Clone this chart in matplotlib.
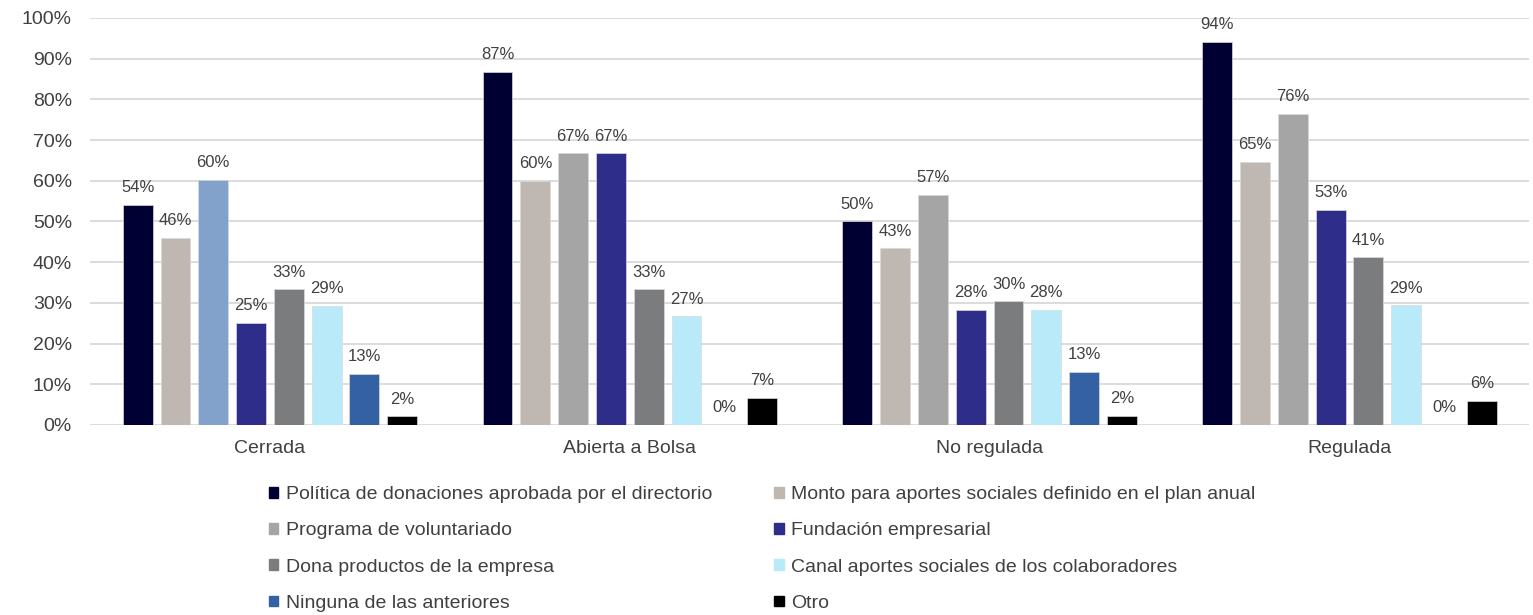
import matplotlib
matplotlib.use("Agg")
import matplotlib.pyplot as plt
from matplotlib.patches import Rectangle
import numpy as np

plt.rcParams['font.family'] = ['Liberation Sans', 'DejaVu Sans']

categories = ["Cerrada", "Abierta a Bolsa", "No regulada", "Regulada"]
series = [
    "Política de donaciones aprobada por el directorio",
    "Monto para aportes sociales definido en el plan anual",
    "Programa de voluntariado",
    "Fundación empresarial",
    "Dona productos de la empresa",
    "Canal aportes sociales de los colaboradores",
    "Ninguna de las anteriores",
    "Otro",
]
# values in % per series, one per category
politica   = [54.1, 86.7, 50.0, 94.1]
monto      = [46.0, 60.0, 43.4, 64.7]
voluntario = [60.3, 66.7, 56.6, 76.5]
fundacion  = [25.0, 66.7, 28.2, 52.9]
dona       = [33.3, 33.3, 30.4, 41.2]
canal      = [29.2, 26.7, 28.2, 29.4]
ninguna    = [12.6, 0.0, 13.0, 0.0]
otro       = [2.1, 6.7, 2.2, 5.9]
values = [politica, monto, voluntario, fundacion, dona, canal, ninguna, otro]

colors = ["#000033", "#BFB8B2", "#A5A5A5", "#2E2E8A",
          "#7B7C7E", "#B9EAFA", "#3461A4", "#000000"]
cerrada_voluntario_color = "#82A2CC"

fig = plt.figure(figsize=(15.33, 6.15), dpi=100)
ax = fig.add_axes([0.0587, 0.309, 0.939, 0.6618])

n = len(series)
pitch = 0.105
width = 0.083
x = np.arange(len(categories))
for i, (vals, c) in enumerate(zip(values, colors)):
    pos = x + (i - (n - 1) / 2) * pitch
    cols = [c] * len(categories)
    if i == 2:
        cols[0] = cerrada_voluntario_color
    bars = ax.bar(pos, vals, width, color=cols, edgecolor="#d9d9d9", linewidth=0.5, zorder=3)
    for b, v in zip(bars, vals):
        ax.annotate("%d%%" % round(v), (b.get_x() + b.get_width() / 2, v),
                    xytext=(0, 7), textcoords="offset points",
                    ha="center", va="bottom", fontsize=12, color="#404040")

ax.set_xlim(-0.5, len(categories) - 0.5)
ax.set_ylim(0, 100)
ax.set_yticks(range(0, 101, 10))
ax.set_yticklabels(["%d%%" % t for t in range(0, 101, 10)])
ax.set_xticks(x)
ax.set_xticklabels(categories)
ax.tick_params(axis="both", length=0, labelsize=14, colors="#404040")
ax.tick_params(axis="y", pad=13)
ax.tick_params(axis="x", pad=11)
ax.grid(axis="y", color="#d9d9d9", linewidth=1.3, zorder=0)
for s in ax.spines.values():
    s.set_visible(False)

handles = [Rectangle((0, 0), 1, 1, color=c) for c in colors]
order = [0, 2, 4, 6, 1, 3, 5, 7]
fig.legend([handles[k] for k in order], [series[k] for k in order],
           ncol=2, loc="upper left", bbox_to_anchor=(0.164, 0.238),
           frameon=False, fontsize=14, handlelength=0.47, handleheight=0.47,
           handletextpad=0.4, labelspacing=0.99, columnspacing=3.2,
           labelcolor="#404040")

fig.savefig("out.png", dpi=100)
